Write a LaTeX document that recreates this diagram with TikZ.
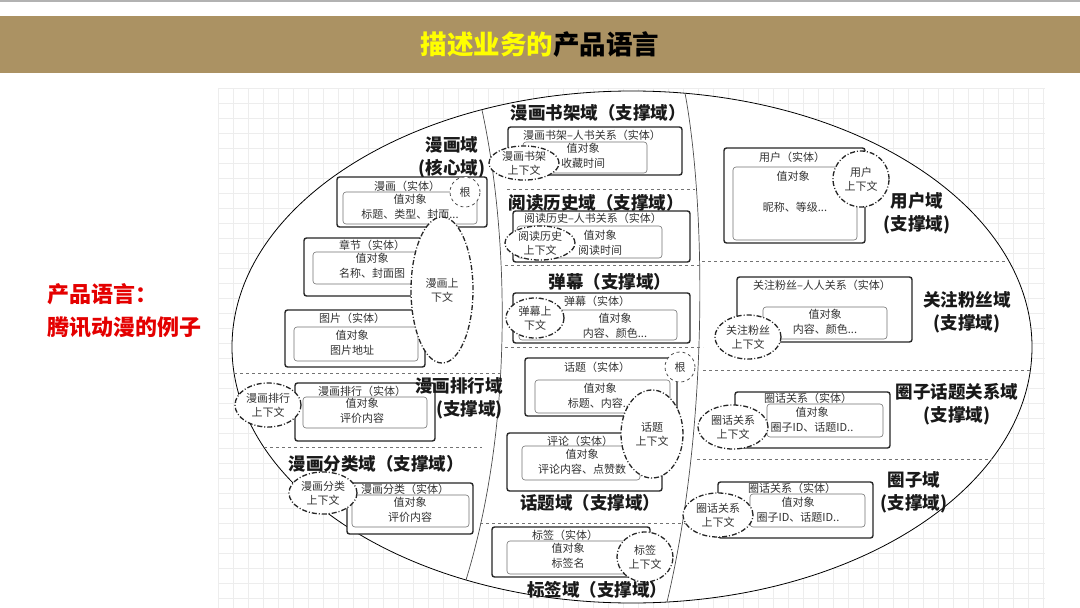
\documentclass[tikz,border=0pt]{standalone}
\usepackage{fontspec}
\newfontfamily\cjk{Noto Sans CJK SC}
\usetikzlibrary{shapes.geometric}

\definecolor{headbg}{RGB}{171,146,99}
\definecolor{headyellow}{RGB}{255,255,0}
\definecolor{leadred}{RGB}{228,0,0}

\begin{document}
\begin{tikzpicture}[x=1pt, y=-1pt,
  every node/.style={font=\cjk\fontsize{11}{15}\selectfont, text=black!80, inner sep=0pt, align=center},
  gridline/.style={draw=black!7, line width=0.5pt},
  ent/.style={draw=black!85, line width=1.4pt, rounded corners=2.5pt, fill=white},
  val/.style={draw=black!55, line width=0.6pt, rounded corners=3pt},
  ctx/.style={ellipse, draw=black!85, line width=1.3pt, dash pattern=on 5pt off 2pt on 1pt off 2pt,
    fill=white, font=\cjk\fontsize{11}{14}\selectfont},
  root/.style={circle, draw=black!70, line width=0.8pt, dashed, fill=white, minimum size=30pt},
  dom/.style={font=\cjk\bfseries\fontsize{17.5}{23}\selectfont, text=black!90},
  sep/.style={draw=black!55, line width=0.7pt, dashed},
  split/.style={draw=black!70, line width=0.7pt},
  lead/.style={anchor=west, font=\cjk\bfseries\fontsize{22}{24}\selectfont, text=leadred}]

  \useasboundingbox (0,0) rectangle (1080,608);

  % header
  \fill[black!30] (0,0) rectangle (1080,1.5);
  \fill[headbg] (0,16) rectangle (1080,73);
  \node[font=\cjk\bfseries\fontsize{26.5}{30}\selectfont, text=black] (title) at (540,45)
    {\textcolor{headyellow}{描述业务的}产品语言};

  \node[lead] (lead1) at (47,294) {产品语言：};
  \node[lead] (lead2) at (47,327) {腾讯动漫的例子};

  % background grid and the big ellipse
  \foreach \gx in {218,233,...,1043} \draw[gridline] (\gx,88) -- (\gx,608);
  \foreach \gy in {88,103,...,608} \draw[gridline] (218,\gy) -- (1045,\gy);
  \draw[line width=0.8pt, fill=white] (632,347) ellipse [x radius=400pt, y radius=256pt];

  \draw[split] (482,110) .. controls (508,230) and (515,420) .. (466,580);
  \draw[split] (685,93) .. controls (705,200) and (710,420) .. (667,602);

  \draw[sep] (234,373) -- (503,373);
  \draw[sep] (264,447) -- (482,447);
  \draw[sep] (507,189) -- (695,189);
  \draw[sep] (505,265) -- (702,265);
  \draw[sep] (505,347) -- (703,347);
  \draw[sep] (480,523) -- (688,523);
  \draw[sep] (702,261) -- (1008,261);
  \draw[sep] (703,370) -- (1031,370);
  \draw[sep] (697,459) -- (992,459);

  % 漫画域
  \node[dom] (mhD) at (452,157) {漫画域\\(核心域)};

  \draw[ent] (337,177) rectangle (487,227);
  \draw[val] (343,192) rectangle (477,224);
  \node (mhT) at (407,186) {漫画（实体）};
  \node (mhV) at (410,207) {值对象\\标题、类型、封面...};
  \node[root] (mhR) at (465,192) {根};

  \draw[ent] (304,238) rectangle (432,296);
  \draw[val] (313,252) rectangle (428,284);
  \node (zjT) at (372,245) {章节（实体）};
  \node (zjV) at (372,266) {值对象\\名称、封面图};

  \draw[ent] (285,310) rectangle (425,367);
  \draw[val] (294,327) rectangle (418,361);
  \node (tpT) at (352,318) {图片（实体）};
  \node (tpV) at (352,342.5) {值对象\\图片地址};

  \node[ctx, minimum width=62pt, minimum height=146pt] (mhC) at (442,290) {漫画上\\下文};

  % 漫画排行域
  \draw[ent] (295,383) rectangle (435,441);
  \draw[val] (303,397) rectangle (427,428);
  \node (phT) at (362,391) {漫画排行（实体）};
  \node (phV) at (362,411) {值对象\\评价内容};
  \node[ctx, minimum width=66pt, minimum height=44pt] (phC) at (268,405) {漫画排行\\上下文};
  \node[dom, align=right, anchor=east] (phD) at (503,398) {漫画排行域\\(支撑域)};

  % 漫画分类域
  \node[dom] (flD) at (376,464) {漫画分类域（支撑域）};
  \draw[ent] (347,483) rectangle (473,534);
  \draw[val] (352,495) rectangle (469,527);
  \node (flT) at (405,489) {漫画分类（实体）};
  \node (flV) at (410,510) {值对象\\评价内容};
  \node[ctx, minimum width=68pt, minimum height=42pt] (flC) at (323,493) {漫画分类\\上下文};

  % 漫画书架域
  \node[dom] (sjD) at (598,113) {漫画书架域（支撑域）};
  \draw[ent] (508,127) rectangle (682,175);
  \draw[val] (523,142) rectangle (647,173);
  \node (sjT) at (592,135) {漫画书架–人书关系（实体）};
  \node (sjV) at (583,155.5) {值对象\\收藏时间};
  \node[ctx, minimum width=70pt, minimum height=34pt] (sjC) at (524,163) {漫画书架\\上下文};

  % 阅读历史域
  \node[dom] (ydD) at (596,203) {阅读历史域（支撑域）};
  \draw[ent] (513,211) rectangle (690,262);
  \draw[val] (517,226) rectangle (662,258);
  \node (ydT) at (593,218) {阅读历史–人书关系（实体）};
  \node (ydV) at (600,242.5) {值对象\\阅读时间};
  \node[ctx, minimum width=70pt, minimum height=34pt] (ydC) at (540,243) {阅读历史\\上下文};

  % 弹幕
  \node[dom] (dmD) at (610,282) {弹幕（支撑域）};
  \draw[ent] (513,293) rectangle (690,343);
  \draw[val] (519,310) rectangle (677,340);
  \node (dmT) at (597,301) {弹幕（实体）};
  \node (dmV) at (615,325.5) {值对象\\内容、颜色...};
  \node[ctx, minimum width=58pt, minimum height=40pt] (dmC) at (535,318) {弹幕上\\下文};

  % 话题域
  \draw[ent] (525,358) rectangle (677,416);
  \draw[val] (535,380) rectangle (670,413);
  \node (htT) at (597,367) {话题（实体）};
  \node (htV) at (600,395.5) {值对象\\标题、内容...};
  \node[root] (htR) at (680,367) {根};

  \draw[ent] (507,433) rectangle (662,491);
  \draw[val] (522,446) rectangle (640,480);
  \node (plT) at (580,441) {评论（实体）};
  \node (plV) at (582,461.5) {值对象\\评论内容、点赞数};
  \node[ctx, minimum width=62pt, minimum height=88pt] (htC) at (652,434) {话题\\上下文};
  \node[dom] (htD) at (590,503) {话题域（支撑域）};

  % 标签域
  \draw[ent] (492,527) rectangle (650,577);
  \draw[val] (507,541) rectangle (635,574);
  \node (bqT) at (565,535) {标签（实体）};
  \node (bqV) at (568,555.5) {值对象\\标签名};
  \node[ctx, minimum width=56pt, minimum height=50pt] (bqC) at (645,557) {标签\\上下文};
  \node[dom] (bqD) at (597,590) {标签域（支撑域）};

  % 用户域
  \draw[ent] (724,148) rectangle (865,243);
  \draw[val] (733,167) rectangle (857,240);
  \node (yhT) at (792,157) {用户（实体）};
  \node (yhV) at (793,176) {值对象};
  \node (yhA) at (795,207) {昵称、等级...};
  \node[ctx, minimum width=56pt, minimum height=56pt] (yhC) at (861,179) {用户\\上下文};
  \node[dom] (yhD) at (917,213) {用户域\\(支撑域)};

  % 关注粉丝域
  \draw[ent] (737,277) rectangle (912,342);
  \draw[val] (763,307) rectangle (887,339);
  \node (gzT) at (822,285) {关注粉丝–人人关系（实体）};
  \node (gzV) at (825,321.5) {值对象\\内容、颜色...};
  \node[ctx, minimum width=66pt, minimum height=44pt] (gzC) at (748,337) {关注粉丝\\上下文};
  \node[dom] (gzD) at (967,312) {关注粉丝域\\(支撑域)};

  % 圈子话题关系域
  \draw[ent] (735,392) rectangle (890,448);
  \draw[val] (767,404) rectangle (883,437);
  \node (qhT) at (808,398) {圈话关系（实体）};
  \node (qhV) at (812,420) {值对象\\圈子ID、话题ID..};
  \node[ctx, minimum width=70pt, minimum height=44pt] (qhC) at (733,427) {圈话关系\\上下文};
  \node[dom] (qhD) at (957,404) {圈子话题关系域\\(支撑域)};

  % 圈子域
  \draw[ent] (718,482) rectangle (873,538);
  \draw[val] (750,494) rectangle (865,527);
  \node (qzT) at (792,488) {圈话关系（实体）};
  \node (qzV) at (798,509.5) {值对象\\圈子ID、话题ID..};
  \node[ctx, minimum width=70pt, minimum height=44pt] (qzC) at (718,515) {圈话关系\\上下文};
  \node[dom] (qzD) at (914,492) {圈子域\\(支撑域)};
\end{tikzpicture}
\end{document}
